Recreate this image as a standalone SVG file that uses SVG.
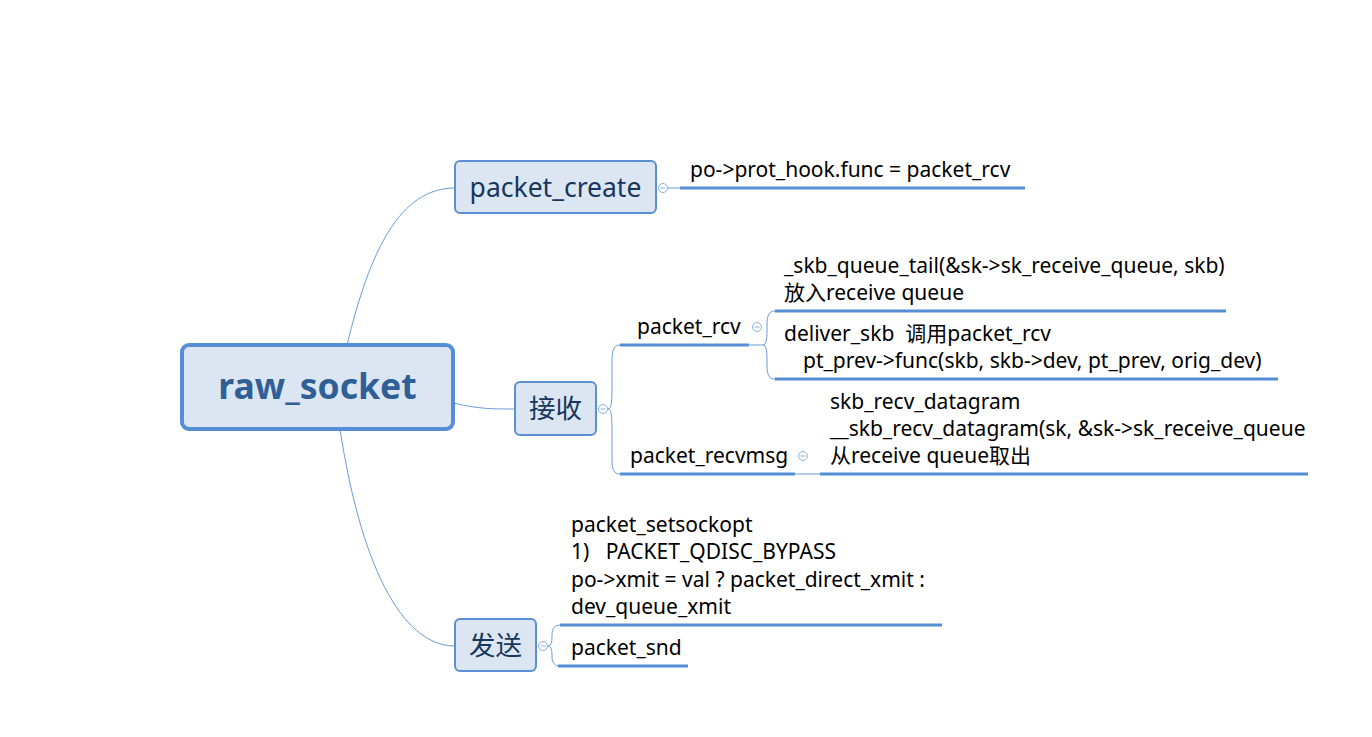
<svg xmlns="http://www.w3.org/2000/svg" width="1372" height="737" viewBox="0 0 1372 737">
<style>
.node{fill:#dce6f2;stroke:#5b8fd5;stroke-width:2}
.root{fill:#dce6f2;stroke:#558ed5;stroke-width:4}
.conn{fill:none;stroke:#6a9bd8;stroke-width:1}
.ul{fill:none;stroke:#558ed5;stroke-width:3}
.col{fill:#fff;stroke:#8aaee0;stroke-width:1}
.t{font-family:"Noto Sans","Noto Sans CJK SC",sans-serif;fill:#000;font-size:21px}
.st{font-family:"Noto Sans","Noto Sans CJK SC",sans-serif;fill:#17365d;font-size:26.5px}
.rt{font-family:"Noto Sans","Noto Sans CJK SC",sans-serif;fill:#2f5f96;font-size:35.5px;font-weight:bold}
</style>
<rect width="1372" height="737" fill="#fff"/>
<g id="connectors">
<path class="conn" d="M347,345 C370,250 400,188 455,188"/>
<path class="conn" d="M453,403 C480,409 490,409 515,409"/>
<path class="conn" d="M340,429 C360,560 400,646 455,646"/>
<path class="conn" d="M668,188 L680,188"/>
<path class="conn" d="M608,409 C612,409 612,400 612,380 L612,360 C612,350 614,345 620,345"/>
<path class="conn" d="M608,409 C612,409 612,418 612,440 L612,460 C612,470 614,474 620,474"/>
<path class="conn" d="M749,345 L763,345 C766,345 767,340 767,330 L767,325 C767,315 769,311 775,311"/>
<path class="conn" d="M763,345 C766,345 767,350 767,360 L767,365 C767,375 769,379 775,379"/>
<path class="conn" d="M795,474 L820,474"/>
<path class="conn" d="M548,646 C552,646 552,640 552,635 C552,628 555,625 560,625"/>
<path class="conn" d="M548,646 C552,646 552,652 552,657 C552,663 555,666 560,666"/>
</g>
<g id="root">
<rect class="root" x="182" y="345" width="271" height="84" rx="7"/>
<text class="rt" x="317.5" y="399" text-anchor="middle">raw_socket</text>
</g>
<g id="packet_create">
<rect class="node" x="455" y="161" width="201" height="52" rx="5"/>
<text class="st" x="555.5" y="197" text-anchor="middle">packet_create</text>
<circle class="col" cx="663" cy="188" r="4.5"/>
<path d="M660.5,188 h5" stroke="#8aaee0"/>
</g>
<g id="prot_hook">
<path class="ul" d="M680,188 H1025"/>
<text class="t" x="690" y="177">po-&gt;prot_hook.func = packet_rcv</text>
</g>
<g id="recv">
<rect class="node" x="515" y="382" width="81" height="53" rx="5"/>
<text class="st" x="555.5" y="418" text-anchor="middle">接收</text>
<circle class="col" cx="603" cy="409" r="4.5"/>
<path d="M600.5,409 h5" stroke="#8aaee0"/>
</g>
<g id="packet_rcv">
<path class="ul" d="M620,345 H749"/>
<text class="t" x="637" y="334">packet_rcv</text>
<circle class="col" cx="757" cy="327" r="4.5"/>
<path d="M754.5,327 h5" stroke="#8aaee0"/>
</g>
<g id="skb_queue_tail">
<path class="ul" d="M775,311 H1226"/>
<text class="t" x="784" y="273">_skb_queue_tail(&amp;sk-&gt;sk_receive_queue, skb)</text>
<text class="t" x="784" y="300">放入receive queue</text>
</g>
<g id="deliver_skb">
<path class="ul" d="M775,379 H1278"/>
<text class="t" x="784" y="341" xml:space="preserve">deliver_skb  调用packet_rcv</text>
<text class="t" x="803" y="368">pt_prev-&gt;func(skb, skb-&gt;dev, pt_prev, orig_dev)</text>
</g>
<g id="packet_recvmsg">
<path class="ul" d="M620,474 H795"/>
<text class="t" x="630" y="463">packet_recvmsg</text>
<circle class="col" cx="803" cy="456" r="4.5"/>
<path d="M800.5,456 h5" stroke="#8aaee0"/>
</g>
<g id="skb_recv_datagram">
<path class="ul" d="M820,474 H1308"/>
<text class="t" x="830" y="409">skb_recv_datagram</text>
<text class="t" x="830" y="436">__skb_recv_datagram(sk, &amp;sk-&gt;sk_receive_queue</text>
<text class="t" x="830" y="463">从receive queue取出</text>
</g>
<g id="send">
<rect class="node" x="455" y="619" width="81" height="52" rx="5"/>
<text class="st" x="495.5" y="655" text-anchor="middle">发送</text>
<circle class="col" cx="543" cy="646" r="4.5"/>
<path d="M540.5,646 h5" stroke="#8aaee0"/>
</g>
<g id="packet_setsockopt">
<path class="ul" d="M560,625 H942"/>
<text class="t" x="571" y="532">packet_setsockopt</text>
<text class="t" x="571" y="559" xml:space="preserve">1)   PACKET_QDISC_BYPASS</text>
<text class="t" x="571" y="587">po-&gt;xmit = val ? packet_direct_xmit :</text>
<text class="t" x="571" y="614">dev_queue_xmit</text>
</g>
<g id="packet_snd">
<path class="ul" d="M558,666 H688"/>
<text class="t" x="571" y="655">packet_snd</text>
</g>
</svg>
